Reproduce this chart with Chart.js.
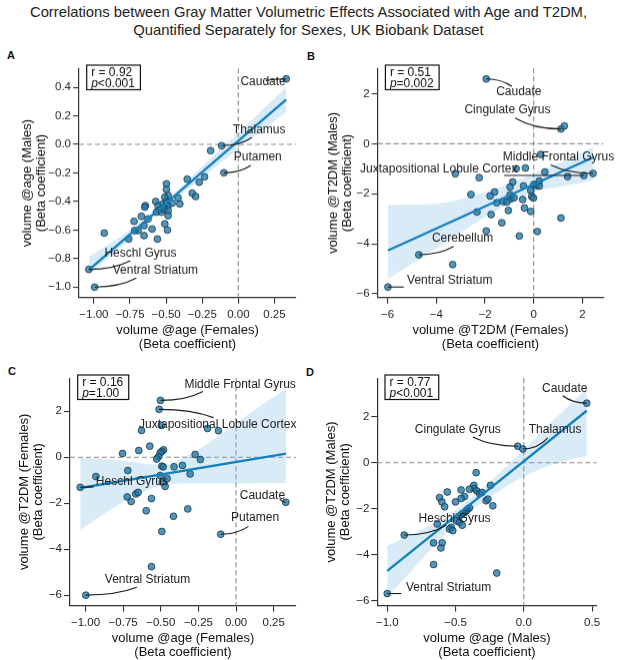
<!DOCTYPE html>
<html>
<head>
<meta charset="utf-8">
<script src="https://cdn.jsdelivr.net/npm/chart.js@4.4.1/dist/chart.umd.min.js"></script>
<style>
  body { margin: 0; width: 617px; height: 660px; position: relative; background: #fff; overflow: hidden;
         font-family: "Liberation Sans", Arial, Helvetica, sans-serif; }
  #title { position: absolute; left: 0; top: 3px; width: 617px; text-align: center;
           font-size: 14.8px; line-height: 18px; color: #222; }
  .letter { position: absolute; font-weight: bold; font-size: 11px; line-height: 13px; color: #111; }
  .panel { position: absolute; }
</style>
</head>
<body>
<div id="title">Correlations between Gray Matter Volumetric Effects Associated with Age and T2DM,<br>Quantified Separately for Sexes, UK Biobank Dataset</div>
<div class="letter" style="left:7px;top:49px">A</div>
<div class="letter" style="left:307px;top:50px">B</div>
<div class="letter" style="left:8px;top:365px">C</div>
<div class="letter" style="left:306px;top:366px">D</div>
<div class="panel" style="left:0;top:40px;width:308px;height:311.5px"><canvas id="chartA"></canvas></div>
<div class="panel" style="left:308px;top:40px;width:309px;height:311.5px"><canvas id="chartB"></canvas></div>
<div class="panel" style="left:0;top:352px;width:308px;height:308px"><canvas id="chartC"></canvas></div>
<div class="panel" style="left:308px;top:352px;width:309px;height:308px"><canvas id="chartD"></canvas></div>
<script>
// ---- A: volume @age, females (x) vs males (y); first five points are the labelled ones
const aNames = ['Caudate', 'Thalamus', 'Putamen', 'Heschl Gyrus', 'Ventral Striatum'];
const aX = [0.331, -0.116, -0.10, -1.035, -0.995, -0.192, -0.234, -0.271, -0.354, -0.928,
  -0.572, -0.556, -0.521, -0.498, -0.509, -0.486, -0.458, -0.417, -0.405, -0.319, -0.296, -0.644,
  -0.648, -0.567, -0.544, -0.532, -0.514, -0.486, -0.486, -0.625, -0.671, -0.722, -0.653, -0.694,
  -0.718, -0.597, -0.759, -0.560, -0.509, -0.491, -0.653, -0.498, -0.498, -0.486, -0.509];
const aY = [0.459, -0.009, -0.199, -0.876, -1.0, -0.044, -0.227, -0.265, -0.244, -0.621,
  -0.400, -0.429, -0.417, -0.398, -0.440, -0.429, -0.412, -0.375, -0.417, -0.342, -0.365, -0.429,
  -0.440, -0.475, -0.459, -0.475, -0.452, -0.464, -0.499, -0.522, -0.504, -0.539, -0.569, -0.604,
  -0.604, -0.593, -0.663, -0.663, -0.557, -0.600, -0.639, -0.276, -0.316, -0.358, -0.370];
const aFitX = [-1.035, 0.331];
const aFitY = [-0.88, 0.314];
const aBandX = [-1.035, -0.75, -0.5, -0.25, 0, 0.331];
const aBandHi = [-0.787, -0.60, -0.395, -0.155, 0.08, 0.403];
const aBandLo = [-0.91, -0.665, -0.43, -0.235, -0.03, 0.227];

// ---- B: volume @T2DM, females (x) vs males (y)
const bNames = ['Caudate', 'Cingulate Gyrus', 'Middle Frontal Gyrus', 'Juxtapositional Lobule Cortex', 'Cerebellum', 'Ventral Striatum'];
const bX = [-1.95, 1.12, 2.44, 2.06, -4.72, -5.99,
  1.26, 0.29, -3.22, -2.24, -0.72, -0.34, 0.46, 1.39, -0.86, -0.97, -0.42, -0.12, 0.01, 0.12, 0.23,
  0.23, -2.58, -1.79, -1.61, -0.97, -0.94, -1.24, -1.10, -0.81, -1.52, -0.45, -0.08, -0.01, -0.38,
  -0.12, -1.04, -2.33, -1.75, -1.31, 1.12, -1.95, -0.59, 0.15, -3.33];
const bY = [2.59, 0.59, -1.19, -1.27, -4.44, -5.73,
  0.71, -0.43, -1.2, -1.36, -1.0, -0.97, -1.13, -1.31, -1.53, -1.73, -1.69, -1.87, -1.63, -1.67, -1.49,
  -1.69, -2.03, -2.09, -1.93, -2.04, -2.2, -2.31, -2.33, -2.16, -2.36, -2.23, -2.11, -2.17, -2.57,
  -2.71, -2.67, -2.73, -2.83, -3.16, -2.97, -3.49, -3.69, -3.51, -4.83];
const bFitX = [-5.99, 2.44];
const bFitY = [-4.27, -0.55];
const bBandX = [-5.99, -4, -2, -1, 0, 1, 2.44];
const bBandHi = [-2.45, -2.4, -1.93, -1.6, -1.2, -0.8, -0.13];
const bBandLo = [-5.4, -4.2, -2.93, -2.4, -1.93, -1.73, -1.47];

// ---- C: volume @age (x) vs volume @T2DM (y), females
const cNames = ['Middle Frontal Gyrus', 'Juxtapositional Lobule Cortex', 'Heschl Gyrus', 'Caudate', 'Putamen', 'Ventral Striatum'];
const cX = [-0.502, -0.511, -1.035, 0.33, -0.102, -0.998,
  -0.628, -0.496, -0.19, -0.117, -0.754, -0.646, -0.573, -0.482, -0.493, -0.504, -0.515, -0.527,
  -0.272, -0.237, -0.412, -0.356, -0.305, -0.493, -0.484, -0.719, -0.931, -0.458, -0.471, -0.504,
  -0.49, -0.723, -0.697, -0.666, -0.65, -0.562, -0.597, -0.416, -0.321, -0.493, -0.562];
const cY = [2.47, 2.08, -1.31, -1.96, -3.35, -6.0,
  1.16, 1.38, 1.25, 1.15, 0.16, 0.29, 0.48, 0.32, 0.25, 0.19, 0.02, -0.08,
  0.12, -0.10, -0.42, -0.36, -0.73, -0.39, -0.42, -0.58, -0.84, -0.93, -1.27, -0.80,
  -1.08, -1.73, -1.93, -1.60, -1.53, -1.80, -2.33, -2.57, -2.25, -3.23, -4.76];
const cFitX = [-1.035, 0.332];
const cFitY = [-1.34, 0.15];
const cBandX = [-1.035, -0.85, -0.7, -0.5, -0.3, -0.1, 0.1, 0.332];
const cBandHi = [-0.03, -0.1, -0.2, -0.35, 0.15, 1.0, 1.95, 2.98];
const cBandLo = [-3.16, -2.35, -1.75, -1.25, -1.15, -1.15, -1.13, -1.12];

// ---- D: volume @age (x) vs volume @T2DM (y), males
const dNames = ['Caudate', 'Cingulate Gyrus', 'Thalamus', 'Heschl Gyrus', 'Ventral Striatum'];
const dX = [0.461, -0.044, -0.007, -0.876, -1.0,
  -0.349, -0.366, -0.366, -0.398, -0.344, -0.324, -0.307, -0.244, -0.459, -0.434, -0.459, -0.5,
  -0.561, -0.617, -0.6, -0.58, -0.276, -0.263, -0.227, -0.41, -0.398, -0.422, -0.434, -0.446,
  -0.459, -0.476, -0.495, -0.471, -0.451, -0.634, -0.532, -0.544, -0.52, -0.661, -0.598, -0.607,
  -0.661, -0.198];
const dY = [2.59, 0.72, 0.60, -3.14, -5.68,
  -0.43, -0.98, -1.12, -1.15, -1.22, -1.34, -1.29, -0.98, -1.18, -1.47, -1.55, -1.70,
  -1.27, -1.51, -1.70, -1.91, -1.65, -1.58, -1.87, -2.01, -1.96, -2.09, -2.16, -2.20,
  -2.26, -2.33, -2.52, -2.59, -2.71, -2.66, -2.81, -2.88, -2.95, -3.48, -3.48, -3.70,
  -4.42, -4.79];
const dFitX = [-1.0, 0.461];
const dFitY = [-4.70, 2.26];
const dBandX = [-1.0, -0.8, -0.6, -0.4, -0.2, 0.0, 0.2, 0.461];
const dBandHi = [-3.60, -3.05, -2.45, -1.6, -0.55, 0.55, 1.75, 3.22];
const dBandLo = [-5.83, -4.55, -3.25, -2.15, -1.3, -0.6, -0.1, 0.29];

// ---- ticks and stats
const ticksAgeF = [-1, -0.75, -0.5, -0.25, 0, 0.25];
const ticksAgeM = [-1, -0.8, -0.6, -0.4, -0.2, 0, 0.2, 0.4];
const ticksAgeMx = [-1, -0.5, 0, 0.5];
const ticksT2dm = [-6, -4, -2, 0, 2];
const statR = ['0.92', '0.51', '0.16', '0.77'];
const statP = ['<0.001', '=0.002', '=1.00', '<0.001'];

Chart.defaults.font.family = '"Liberation Sans", Arial, Helvetica, sans-serif';
Chart.defaults.color = '#222';

const fmt = (v, d) => (v < 0 ? '\u2212' : '') + Math.abs(v).toFixed(d);
const pts = (xs, ys) => xs.map((x, i) => ({ x: x, y: ys[i] }));

// label placement (data coords): text centre (tx, ty), end of the leader (ex, ey)
const notesA = [
  { name: 'Caudate', tx: 0.171, ty: 0.438, ex: 0.19, ey: 0.447 },
  { name: 'Thalamus', tx: 0.144, ty: 0.103, ex: 0.093, ey: 0.047 },
  { name: 'Putamen', tx: 0.134, ty: -0.089, ex: 0.086, ey: -0.148 },
  { name: 'Heschl Gyrus', tx: -0.678, ty: -0.761, ex: -0.748, ey: -0.815 },
  { name: 'Ventral Striatum', tx: -0.574, ty: -0.885, ex: -0.706, ey: -0.937 }
];
const notesB = [
  { name: 'Caudate', tx: -0.61, ty: 2.07, ex: -0.90, ey: 2.29 },
  { name: 'Cingulate Gyrus', tx: -1.08, ty: 1.36, ex: -0.76, ey: 1.03 },
  { name: 'Middle Frontal Gyrus', tx: 1.02, ty: -0.53, ex: 0.70, ey: -0.85 },
  { name: 'Juxtapositional Lobule Cortex', tx: -3.90, ty: -1.0, ex: -1.215, ey: -1.27 },
  { name: 'Cerebellum', tx: -2.92, ty: -3.8, ex: -3.29, ey: -4.11 },
  { name: 'Ventral Striatum', tx: -3.45, ty: -5.47, ex: -5.34, ey: -5.73 }
];
const notesC = [
  { name: 'Middle Frontal Gyrus', tx: 0.027, ty: 3.17, ex: -0.22, ey: 2.86 },
  { name: 'Juxtapositional Lobule Cortex', tx: -0.122, ty: 1.43, ex: -0.15, ey: 1.72 },
  { name: 'Heschl Gyrus', tx: -0.692, ty: -1.05, ex: -0.947, ey: -1.29 },
  { name: 'Caudate', tx: 0.175, ty: -1.67, ex: 0.29, ey: -1.82 },
  { name: 'Putamen', tx: 0.126, ty: -2.65, ex: 0.082, ey: -3.01 },
  { name: 'Ventral Striatum', tx: -0.588, ty: -5.31, ex: -0.659, ey: -5.66 }
];
const notesD = [
  { name: 'Caudate', tx: 0.30, ty: 3.24, ex: 0.285, ey: 2.91 },
  { name: 'Cingulate Gyrus', tx: -0.483, ty: 1.44, ex: -0.373, ey: 1.12 },
  { name: 'Thalamus', tx: 0.229, ty: 1.44, ex: 0.176, ey: 1.08 },
  { name: 'Heschl Gyrus', tx: -0.507, ty: -2.45, ex: -0.568, ey: -2.71 },
  { name: 'Ventral Striatum', tx: -0.551, ty: -5.42, ex: -0.898, ey: -5.68 }
];

const panels = [
  { id: 'chartA', x: aX, y: aY, names: aNames, notes: notesA, fitX: aFitX, fitY: aFitY,
    bandX: aBandX, bandHi: aBandHi, bandLo: aBandLo, r: statR[0], p: statP[0],
    xMin: -1.103, xMax: 0.399, yMin: -1.073, yMax: 0.532,
    xTicks: ticksAgeF, xDec: 2, yTicks: ticksAgeM, yDec: 1,
    xTitle: 'volume @age (Females)', yTitle: 'volume @age (Males)',
    pad: { top: 28.3, right: 12 }, yWidth: 79, xHeight: 54.8, yTitlePad: 20.7, xTitlePad: 1 },
  { id: 'chartB', x: bX, y: bY, names: bNames, notes: notesB, fitX: bFitX, fitY: bFitY,
    bandX: bBandX, bandHi: bBandHi, bandLo: bBandLo, r: statR[1], p: statP[1],
    xMin: -6.41, xMax: 2.86, yMin: -6.15, yMax: 3.01,
    xTicks: ticksT2dm, xDec: 0, yTicks: ticksT2dm, yDec: 0,
    xTitle: 'volume @T2DM (Females)', yTitle: 'volume @T2DM (Males)',
    pad: { top: 28.3, right: 13.7 }, yWidth: 69.7, xHeight: 54.8, yTitlePad: 18.3, xTitlePad: 1 },
  { id: 'chartC', x: cX, y: cY, names: cNames, notes: notesC, fitX: cFitX, fitY: cFitY,
    bandX: cBandX, bandHi: cBandHi, bandLo: cBandLo, r: statR[2], p: statP[2],
    xMin: -1.103, xMax: 0.398, yMin: -6.45, yMax: 3.43,
    xTicks: ticksAgeF, xDec: 2, yTicks: ticksT2dm, yDec: 0,
    xTitle: 'volume @age (Females)', yTitle: 'volume @T2DM (Females)',
    pad: { top: 26.3, right: 12 }, yWidth: 70, xHeight: 54.5, yTitlePad: 17, xTitlePad: 0.5 },
  { id: 'chartD', x: dX, y: dY, names: dNames, notes: notesD, fitX: dFitX, fitY: dFitY,
    bandX: dBandX, bandHi: dBandHi, bandLo: dBandLo, r: statR[3], p: statP[3],
    xMin: -1.073, xMax: 0.534, yMin: -6.2, yMax: 3.67,
    xTicks: ticksAgeMx, xDec: 1, yTicks: ticksT2dm, yDec: 0,
    xTitle: 'volume @age (Males)', yTitle: 'volume @T2DM (Males)',
    pad: { top: 26.3, right: 20.3 }, yWidth: 69.3, xHeight: 54.5, yTitlePad: 16.7, xTitlePad: 0.5 }
];

const FONT = '"Liberation Sans", Arial, sans-serif';

function makeDecor(p) {
  return {
    id: 'decor_' + p.id,
    beforeDatasetsDraw(chart) {
      const { ctx, chartArea: a, scales } = chart;
      const x0 = scales.x.getPixelForValue(0), y0 = scales.y.getPixelForValue(0);
      ctx.save();
      ctx.strokeStyle = '#8c8c8c';
      ctx.lineWidth = 1.1;
      ctx.setLineDash([5, 3]);
      ctx.beginPath();
      ctx.moveTo(x0, a.top); ctx.lineTo(x0, a.bottom);
      ctx.moveTo(a.left, y0); ctx.lineTo(a.right, y0);
      ctx.stroke();
      ctx.restore();
    },
    afterDatasetsDraw(chart) {
      const { ctx, chartArea: a, scales } = chart;
      const px = v => scales.x.getPixelForValue(v), py = v => scales.y.getPixelForValue(v);
      ctx.save();
      // region labels
      ctx.font = '12px ' + FONT;
      ctx.fillStyle = '#222';
      ctx.textAlign = 'center';
      ctx.textBaseline = 'middle';
      p.notes.forEach(n => ctx.fillText(n.name, px(n.tx), py(n.ty)));
      // leader lines: leave the point flat, bend into the label
      ctx.strokeStyle = '#1a1a1a';
      ctx.lineWidth = 1.1;
      p.notes.forEach(n => {
        const i = p.names.indexOf(n.name);
        const sx = px(p.x[i]), sy = py(p.y[i]);
        const ex = px(n.ex), ey = py(n.ey);
        ctx.beginPath();
        ctx.moveTo(sx, sy);
        ctx.quadraticCurveTo(sx + 0.6 * (ex - sx), sy, ex, ey);
        ctx.stroke();
      });
      // r / p box
      const l1 = 'r = ' + p.r;
      ctx.font = '12px ' + FONT;
      const w1 = ctx.measureText(l1).width;
      const wRest = ctx.measureText(p.p).width;
      ctx.font = 'italic 12px ' + FONT;
      const wp = ctx.measureText('p').width;
      const bw = Math.max(w1, wp + wRest) + 10, bh = 24.5;
      const bx = a.left + 7.7, by = a.top - 3.3;
      ctx.fillStyle = '#fff';
      ctx.fillRect(bx, by, bw, bh);
      ctx.strokeStyle = '#111';
      ctx.lineWidth = 1.2;
      ctx.strokeRect(bx, by, bw, bh);
      ctx.fillStyle = '#111';
      ctx.textAlign = 'left';
      ctx.font = '12px ' + FONT;
      ctx.fillText(l1, bx + 4.5, by + 7.8);
      ctx.font = 'italic 12px ' + FONT;
      ctx.fillText('p', bx + 4.5, by + 18.6);
      ctx.font = '12px ' + FONT;
      ctx.fillText(p.p, bx + 4.5 + wp, by + 18.6);
      ctx.restore();
    }
  };
}

function axis(p, dir) {
  const isX = dir === 'x';
  const tickVals = isX ? p.xTicks : p.yTicks;
  const dec = isX ? p.xDec : p.yDec;
  return {
    type: 'linear',
    min: isX ? p.xMin : p.yMin,
    max: isX ? p.xMax : p.yMax,
    afterBuildTicks: s => { s.ticks = tickVals.map(v => ({ value: v })); },
    afterFit: s => { if (isX) s.height = p.xHeight; else s.width = p.yWidth; },
    ticks: { callback: v => fmt(v, dec), autoSkip: false, maxRotation: 0,
             font: { size: 11.5 }, color: '#1e1e1e', padding: isX ? 4.5 : 2 },
    grid: { drawOnChartArea: false, drawTicks: true, tickLength: 6, color: '#333', lineWidth: 1.1 },
    border: { display: true, color: '#333', width: 1.2 },
    title: { display: true, text: [isX ? p.xTitle : p.yTitle, '(Beta coefficient)'],
             color: '#111', font: { size: 13, lineHeight: 1.08 },
             padding: isX ? { top: 0, bottom: p.xTitlePad } : { top: p.yTitlePad, bottom: 0 } }
  };
}

panels.forEach(p => {
  new Chart(document.getElementById(p.id), {
    type: 'scatter',
    data: {
      datasets: [
        { type: 'line', data: pts(p.bandX, p.bandLo), borderWidth: 0, pointRadius: 0,
          fill: false, cubicInterpolationMode: 'monotone', order: 3 },
        { type: 'line', data: pts(p.bandX, p.bandHi), borderWidth: 0, pointRadius: 0,
          fill: '-1', backgroundColor: 'rgba(100,175,225,0.25)', cubicInterpolationMode: 'monotone', order: 3 },
        { data: pts(p.x, p.y), pointRadius: 3.4, backgroundColor: 'rgba(30,120,170,0.78)',
          borderColor: '#1d3441', borderWidth: 0.8, order: 2 },
        { type: 'line', data: pts(p.fitX, p.fitY), borderColor: '#1381bd', borderWidth: 2.3,
          pointRadius: 0, fill: false, order: 1 }
      ]
    },
    options: {
      responsive: true,
      maintainAspectRatio: false,
      animation: false,
      events: [],
      layout: { padding: { top: p.pad.top, right: p.pad.right, left: 0, bottom: 0 } },
      plugins: { legend: { display: false }, tooltip: { enabled: false } },
      scales: { x: axis(p, 'x'), y: axis(p, 'y') }
    },
    plugins: [makeDecor(p)]
  });
});
</script>
</body>
</html>
